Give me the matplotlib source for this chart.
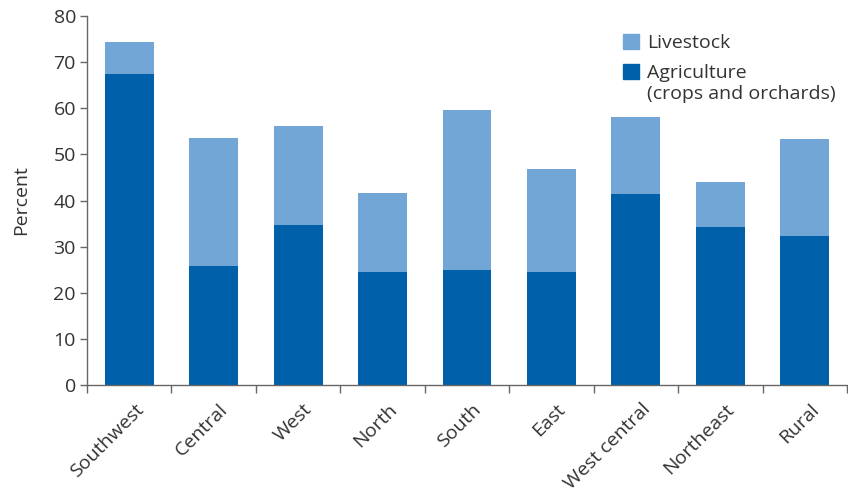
import numpy as np
import matplotlib.pyplot as plt
import matplotlib.transforms as mtransforms
from matplotlib.patches import Patch

plt.rcParams['font.family'] = ['Open Sans', 'DejaVu Sans']

# data
regions = ['Southwest', 'Central', 'West', 'North', 'South', 'East',
           'West central', 'Northeast', 'Rural']
agriculture = [67.4, 25.8, 34.7, 24.5, 24.9, 24.5, 41.4, 34.2, 32.3]
livestock = [6.9, 27.7, 21.4, 17.1, 34.7, 22.3, 16.7, 9.8, 21.0]

dark = '#0061aa'
light = '#72a6d7'
axis_grey = '#666666'
text_grey = '#333333'
fs = 14

fig = plt.figure(figsize=(8.48, 4.94), dpi=100)
ax = fig.add_axes([87 / 848, 1 - 385 / 494, 760 / 848, 369 / 494])

x = np.arange(len(regions))
ax.bar(x, agriculture, width=0.58, color=dark)
ax.bar(x, livestock, width=0.58, bottom=agriculture, color=light)

ax.set_xlim(-0.5, len(regions) - 0.5)
ax.set_ylim(0, 80)
ax.set_yticks(range(0, 81, 10))

# ticks sit between the bars, labels under the bar centres
ax.set_xticks(np.arange(-0.5, len(regions), 1.0))
ax.set_xticklabels([])
ax.set_xticks(x, minor=True)
ax.set_xticklabels(regions, minor=True, rotation=45, ha='right', va='top',
                   rotation_mode='anchor', fontsize=fs, color=text_grey)
ax.tick_params(axis='x', which='minor', length=0, pad=11)
ax.tick_params(axis='x', which='major', direction='out', length=6,
               color=axis_grey, width=1)
ax.tick_params(axis='y', direction='out', length=5, color=axis_grey,
               width=1, labelsize=fs, labelcolor=text_grey, pad=3)
offset = mtransforms.ScaledTranslation(5 / 100, 0, fig.dpi_scale_trans)
for lbl in ax.get_xticklabels(minor=True):
    lbl.set_transform(lbl.get_transform() + offset)

for side in ['top', 'right']:
    ax.spines[side].set_visible(False)
for side in ['left', 'bottom']:
    ax.spines[side].set_color(axis_grey)
    ax.spines[side].set_linewidth(1)

ax.set_ylabel('Percent', fontsize=fs, color=text_grey)
ax.yaxis.set_label_coords(-57 / 760, 0.5)

handles = [Patch(color=light), Patch(color=dark)]
leg = fig.legend(handles, ['Livestock', 'Agriculture'],
                 loc='upper left', bbox_to_anchor=(623 / 848, 1 - 34 / 494),
                 frameon=False, fontsize=fs, handlelength=16 / 19.4,
                 handleheight=16 / 19.4, handletextpad=0.4, borderpad=0,
                 borderaxespad=0, labelspacing=0.6, labelcolor=text_grey)
fig.text(647 / 848, 1 - 94 / 494, '(crops and orchards)', fontsize=fs,
         color=text_grey, va='center', ha='left')

fig.savefig('out.png', dpi=100)
